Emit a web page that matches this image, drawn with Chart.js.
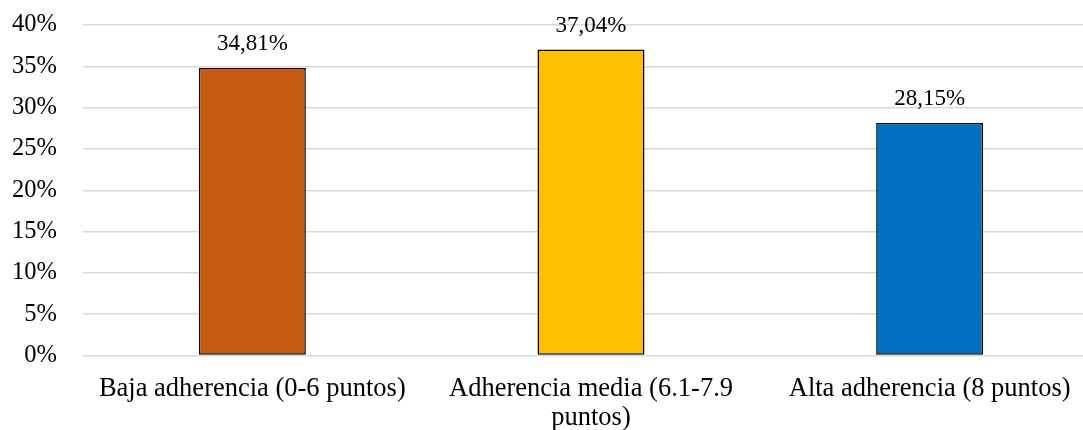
<!DOCTYPE html>
<html lang="es">
<head>
    <meta charset="UTF-8">
    <title>Adherencia</title>
    <script src="https://cdn.jsdelivr.net/npm/chart.js"></script>
    <style>
        html, body {
            margin: 0;
            padding: 0;
            background: #fff;
            overflow: hidden;
        }
        .chart-container {
            width: 1099px;
            height: 430px;
            position: relative;
        }
    </style>
</head>
<body>
    <div class="chart-container">
        <canvas id="barChart"></canvas>
    </div>

    <script>
        // Data
        const categories = [
            'Baja adherencia (0-6 puntos)',
            ['Adherencia media (6.1-7.9', 'puntos)'],
            'Alta adherencia (8 puntos)'
        ];
        const percentages = [34.81, 37.04, 28.15];
        const barColors = ['#C55A11', '#FFC000', '#0070C0'];
        const yTicks = [0, 5, 10, 15, 20, 25, 30, 35, 40];

        const serif = '"Liberation Serif", "Times New Roman", serif';

        // Simple value labels above each bar
        const valueLabels = {
            id: 'valueLabels',
            afterDatasetsDraw(chart) {
                const ctx = chart.ctx;
                const meta = chart.getDatasetMeta(0);
                ctx.save();
                ctx.font = '23px ' + serif;
                ctx.fillStyle = '#000';
                ctx.textAlign = 'center';
                ctx.textBaseline = 'middle';
                meta.data.forEach((bar, i) => {
                    const txt = percentages[i].toFixed(2).replace('.', ',') + '%';
                    ctx.fillText(txt, bar.x, bar.y - 24);
                });
                ctx.restore();
            }
        };

        new Chart(document.getElementById('barChart'), {
            type: 'bar',
            data: {
                labels: categories,
                datasets: [{
                    data: percentages,
                    backgroundColor: barColors,
                    borderColor: '#000',
                    borderWidth: 1.5,
                    borderSkipped: false,
                    categoryPercentage: 1,
                    barPercentage: 0.316
                }]
            },
            options: {
                responsive: true,
                maintainAspectRatio: false,
                animation: false,
                layout: {
                    padding: { left: 0, right: 0, top: 25, bottom: 0 }
                },
                scales: {
                    x: {
                        grid: { display: false, drawTicks: false },
                        border: { display: false },
                        afterFit(axis) { axis.height = 74.5; },
                        ticks: {
                            color: '#000',
                            font: { family: serif, size: 26.5, lineHeight: 1.1 },
                            maxRotation: 0,
                            autoSkip: false,
                            padding: 19
                        }
                    },
                    y: {
                        min: 0,
                        max: 40,
                        afterBuildTicks(axis) {
                            axis.ticks = yTicks.map(v => ({ value: v }));
                        },
                        afterFit(axis) {
                            axis.width = 83;
                            axis.paddingTop = 0;
                            axis.paddingBottom = 0;
                        },
                        grid: {
                            color: '#D9D9D9',
                            lineWidth: 1.5,
                            drawTicks: false
                        },
                        border: { display: false },
                        ticks: {
                            color: '#000',
                            font: { family: serif, size: 24.5 },
                            padding: 26,
                            callback: v => v + '%'
                        }
                    }
                },
                plugins: {
                    legend: { display: false },
                    tooltip: { enabled: false }
                }
            },
            plugins: [valueLabels]
        });
    </script>
</body>
</html>
